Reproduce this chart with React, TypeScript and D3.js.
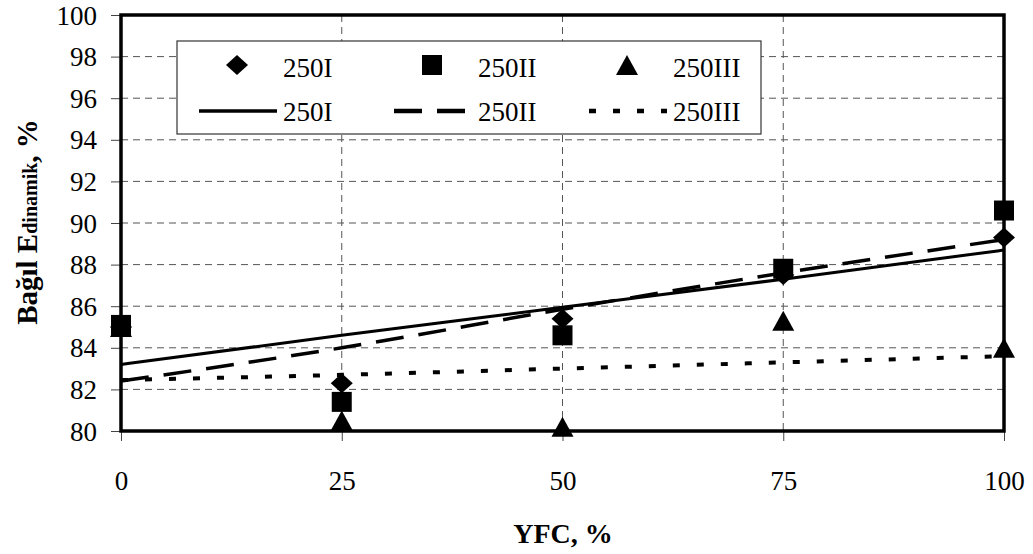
import React, { useEffect, useRef } from 'react';
import * as d3 from 'd3';

// x positions (YFC, %)
const yfc = [0, 25, 50, 75, 100];

// measured points
const s250I = [85.0, 82.3, 85.4, 87.5, 89.3];
const s250II = [85.1, 81.4, 84.6, 87.8, 90.6];
const s250III = [85.0, 80.5, 80.2, 85.3, 84.0];

// trend lines
const t250I = [83.2, 84.6, 85.95, 87.3, 88.7];
const t250II = [82.4, 84.0, 85.85, 87.6, 89.2];
const t250III = [82.45, 82.7, 83.0, 83.3, 83.6];

const xTicks = [0, 25, 50, 75, 100];
const yTicks = [80, 82, 84, 86, 88, 90, 92, 94, 96, 98, 100];
const seriesNames = ['250I', '250II', '250III'];

const FONT = '"Liberation Serif", "Times New Roman", serif';

const App = () => {
  const svgRef = useRef<SVGSVGElement>(null);

  useEffect(() => {
    if (!svgRef.current) return;
    const svg = d3.select(svgRef.current);
    svg.selectAll('*').remove();

    const left = 121, right = 1004, top = 15, bottom = 431;
    const x = d3.scaleLinear().domain([0, 100]).range([left, right]);
    const y = d3.scaleLinear().domain([80, 100]).range([bottom, top]);

    // grid
    const grid = svg.append('g');
    grid.selectAll('line.h')
      .data(yTicks.filter(t => t > 80 && t < 100))
      .enter().append('line')
      .attr('x1', left).attr('x2', right)
      .attr('y1', d => y(d)).attr('y2', d => y(d))
      .attr('stroke', '#555').attr('stroke-width', 1)
      .attr('stroke-dasharray', '7 5');
    grid.selectAll('line.v')
      .data(xTicks.filter(t => t > 0 && t < 100))
      .enter().append('line')
      .attr('x1', d => x(d)).attr('x2', d => x(d))
      .attr('y1', top).attr('y2', bottom)
      .attr('stroke', '#555').attr('stroke-width', 1)
      .attr('stroke-dasharray', '7 5');

    // axes
    const yAxis = svg.append('g')
      .attr('transform', `translate(${left},0)`)
      .call(d3.axisLeft(y).tickValues(yTicks).tickSize(10).tickSizeOuter(0).tickPadding(14));
    yAxis.select('.domain').remove();
    yAxis.selectAll('text').attr('font-family', FONT).attr('font-size', 27).attr('fill', '#000').attr('dy', '0.34em');
    yAxis.selectAll('line').attr('stroke', '#444');

    const xAxis = svg.append('g')
      .attr('transform', `translate(0,${bottom})`)
      .call(d3.axisBottom(x).tickValues(xTicks).tickSize(10).tickSizeOuter(0));
    xAxis.select('.domain').remove();
    xAxis.selectAll('text').attr('font-family', FONT).attr('font-size', 27).attr('fill', '#000')
      .attr('y', 59).attr('dy', 0);
    xAxis.selectAll('line').attr('stroke', '#444');

    // plot border
    svg.append('rect')
      .attr('x', left).attr('y', top)
      .attr('width', right - left).attr('height', bottom - top)
      .attr('fill', 'none').attr('stroke', '#000').attr('stroke-width', 3.5);

    // markers
    const diamond = (cx: number, cy: number, r: number) =>
      `M${cx},${cy - r}L${cx + r * 1.1},${cy}L${cx},${cy + r}L${cx - r * 1.1},${cy}Z`;
    const square = (cx: number, cy: number, r: number) =>
      `M${cx - r},${cy - r}H${cx + r}V${cy + r}H${cx - r}Z`;
    const triangle = (cx: number, cy: number, r: number) =>
      `M${cx},${cy - r}L${cx + r * 1.1},${cy + r}L${cx - r * 1.1},${cy + r}Z`;
    const shapes = [diamond, square, triangle];
    const radii = [10, 10, 10];

    const markers = svg.append('g');
    [s250I, s250II, s250III].forEach((vals, k) => {
      markers.selectAll(null)
        .data(vals)
        .enter().append('path')
        .attr('d', (d, i) => shapes[k](x(yfc[i]), y(d), radii[k]))
        .attr('fill', '#000');
    });

    // trend lines
    const line = d3.line<number>()
      .x((d, i) => x(yfc[i]))
      .y(d => y(d))
      .curve(d3.curveMonotoneX);
    const dashes = [null, '28 15', '7 17'];
    const widths = [3, 3.5, 4];
    const lines = svg.append('g').attr('fill', 'none').attr('stroke', '#000');
    [t250I, t250II, t250III].forEach((vals, k) => {
      const p = lines.append('path').attr('d', line(vals)).attr('stroke-width', widths[k]);
      if (dashes[k]) p.attr('stroke-dasharray', dashes[k] as string);
    });

    // legend
    const lg = svg.append('g');
    lg.append('rect')
      .attr('x', 177).attr('y', 41).attr('width', 584).attr('height', 93)
      .attr('fill', '#fff').attr('stroke', '#333').attr('stroke-width', 1.2);
    seriesNames.forEach((name, i) => {
      const ox = i * 195;
      lg.append('path').attr('d', shapes[i](237 + ox, 65, radii[i])).attr('fill', '#000');
      lg.append('text').attr('x', 283 + ox).attr('y', 77)
        .attr('font-family', FONT).attr('font-size', 27).text(name);
      const l = lg.append('line')
        .attr('x1', 199 + ox).attr('x2', 277 + ox)
        .attr('y1', 111).attr('y2', 111)
        .attr('stroke', '#000').attr('stroke-width', i === 0 ? 3.5 : 4.5);
      if (dashes[i]) l.attr('stroke-dasharray', dashes[i] as string);
      lg.append('text').attr('x', 283 + ox).attr('y', 121)
        .attr('font-family', FONT).attr('font-size', 27).text(name);
    });

    // axis titles
    svg.append('text')
      .attr('x', 563).attr('y', 543)
      .attr('text-anchor', 'middle')
      .attr('font-family', FONT).attr('font-size', 28).attr('font-weight', 'bold')
      .text('YFC, %');

    const yt = svg.append('text')
      .attr('transform', 'translate(37,222) rotate(-90)')
      .attr('text-anchor', 'middle')
      .attr('font-family', FONT).attr('font-size', 29).attr('font-weight', 'bold');
    yt.append('tspan').text('Bağıl E');
    yt.append('tspan').attr('font-size', 20).text('dinamik');
    yt.append('tspan').text(', %');
  }, []);

  return (
    <div style={{ position: 'absolute', left: 0, top: 0 }}>
      <svg ref={svgRef} width={1033} height={554} style={{ display: 'block', background: '#fff' }} />
    </div>
  );
};

export default App;
